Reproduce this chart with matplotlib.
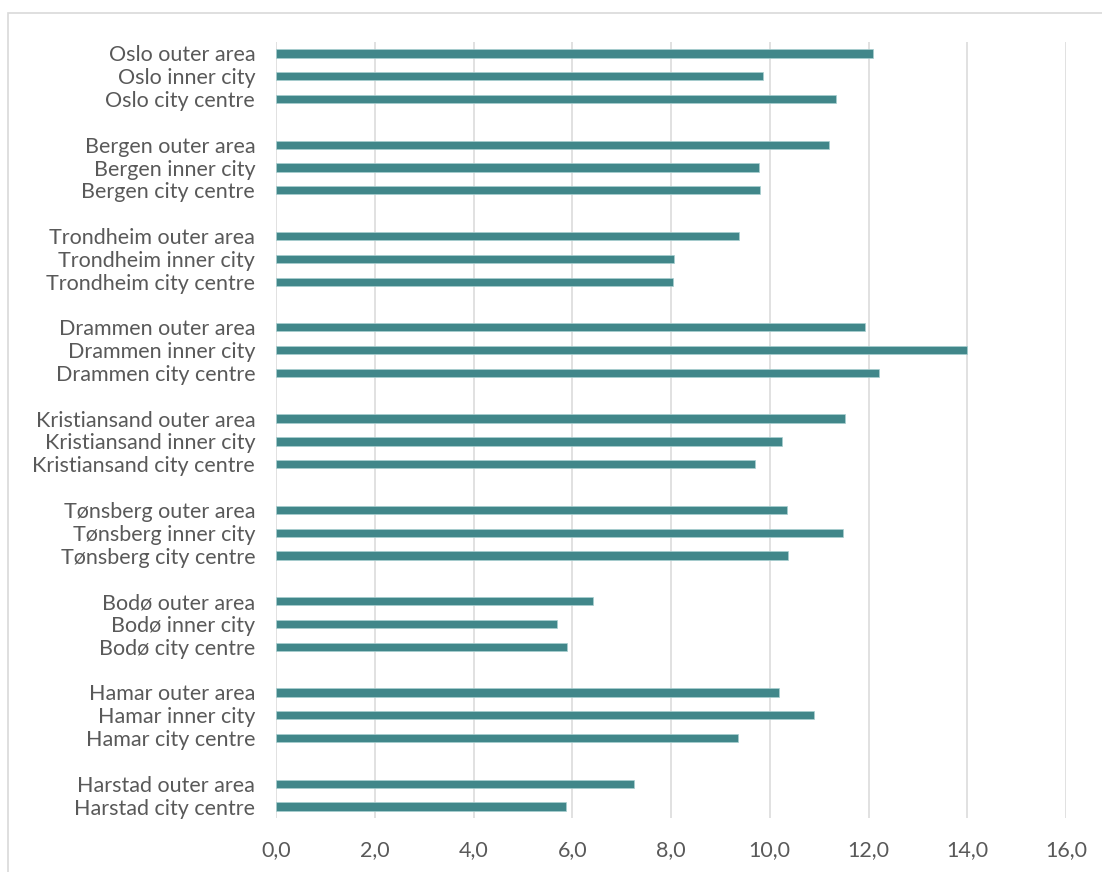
import matplotlib
matplotlib.use("Agg")
import matplotlib.pyplot as plt
from matplotlib.ticker import FuncFormatter, MultipleLocator
from matplotlib.patches import Rectangle

groups = [
    ["Oslo outer area", "Oslo inner city", "Oslo city centre"],
    ["Bergen outer area", "Bergen inner city", "Bergen city centre"],
    ["Trondheim outer area", "Trondheim inner city", "Trondheim city centre"],
    ["Drammen outer area", "Drammen inner city", "Drammen city centre"],
    ["Kristiansand outer area", "Kristiansand inner city", "Kristiansand city centre"],
    ["Tønsberg outer area", "Tønsberg inner city", "Tønsberg city centre"],
    ["Bodø outer area", "Bodø inner city", "Bodø city centre"],
    ["Hamar outer area", "Hamar inner city", "Hamar city centre"],
    ["Harstad outer area", "Harstad city centre"],
]
group_values = [
    [12.09, 9.86, 11.34],
    [11.20, 9.78, 9.80],
    [9.38, 8.06, 8.04],
    [11.93, 14.00, 12.21],
    [11.52, 10.25, 9.70],
    [10.35, 11.48, 10.37],
    [6.42, 5.69, 5.89],
    [10.19, 10.90, 9.36],
    [7.25, 5.87],
]

labels, ypos_lab = [], []
bar_y, bar_v = [], []
pos = 0
for gi, (g, v) in enumerate(zip(groups, group_values)):
    if gi > 0:
        labels.append("")
        ypos_lab.append(pos)
        pos += 1
    for lab, val in zip(g, v):
        labels.append(lab)
        ypos_lab.append(pos)
        bar_y.append(pos)
        bar_v.append(val)
        pos += 1
n = pos

fig = plt.figure(figsize=(11.02, 8.72), dpi=100)
fig.patches.append(Rectangle((8/1102, -0.1), 1.2, 1 - 13/872 + 0.1,
                             transform=fig.transFigure, fill=False,
                             edgecolor="#d9d9d9", linewidth=1.2))
ax = fig.add_axes([276/1102, 1 - 818/872, (1066-276)/1102, (818-42)/872])

ax.barh(bar_y, bar_v, height=0.36, color="#41878A", edgecolor="#a9cfd0",
        linewidth=0.5, zorder=3)
ax.set_ylim(n - 0.5, -0.5)
ax.set_xlim(0, 16)
ax.set_yticks(ypos_lab)
ax.set_yticklabels(labels)
ax.xaxis.set_major_locator(MultipleLocator(2))
ax.xaxis.set_major_formatter(FuncFormatter(lambda x, p: f"{x:.1f}".replace(".", ",")))
ax.grid(axis="x", color="#dcdcdc", linewidth=1.2, zorder=0)
for s in ax.spines.values():
    s.set_visible(False)
ax.tick_params(axis="both", length=0, colors="#595959", labelsize=15.5)
ax.tick_params(axis="x", pad=16)
ax.tick_params(axis="y", pad=15)
for t in ax.get_xticklabels() + ax.get_yticklabels():
    t.set_fontfamily("Lato")
    t.set_color("#595959")

fig.savefig("out.png", dpi=100)
